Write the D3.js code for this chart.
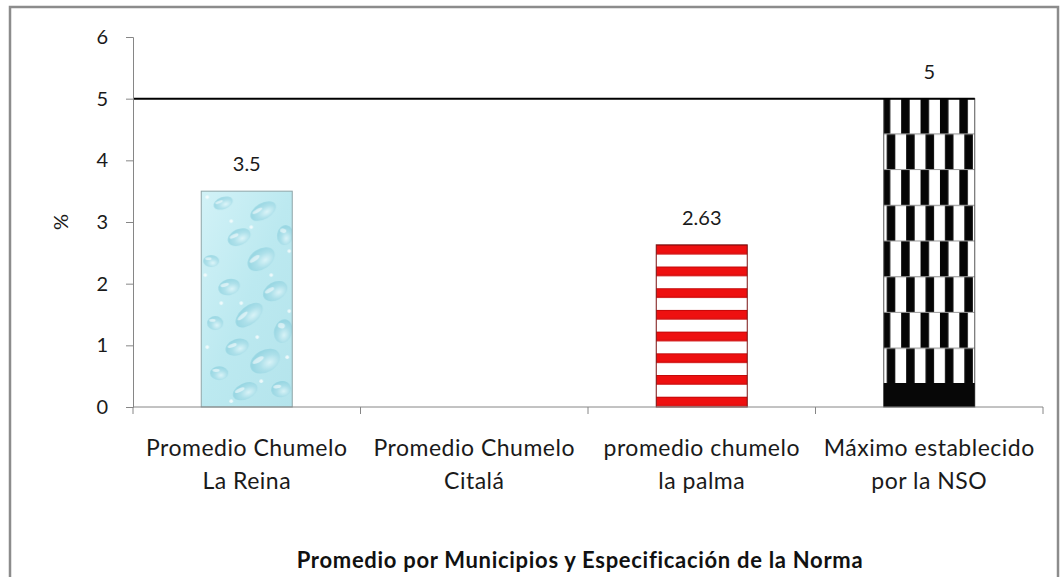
<!DOCTYPE html>
<html>
<head>
<meta charset="utf-8">
<script src="https://cdn.jsdelivr.net/npm/d3@7"></script>
<style>
  html, body { margin: 0; padding: 0; background: #ffffff; }
  svg { display: block; }
</style>
</head>
<body>
<svg id="chart" width="1060" height="577"></svg>
<script>
// Categorías (dos líneas por etiqueta) y valores promedio en %
const categorias = [
  ["Promedio Chumelo", "La Reina"],
  ["Promedio Chumelo", "Citalá"],
  ["promedio chumelo", "la palma"],
  ["Máximo establecido", "por la NSO"]
];
const valores = [3.5, null, 2.63, 5];
const etiquetasValor = ["3.5", "", "2.63", "5"];
const maximoNorma = 5;
const ticksY = [0, 1, 2, 3, 4, 5, 6];
const tituloX = "Promedio por Municipios y Especificación de la Norma";
const tituloY = "%";

const svg = d3.select("#chart");
const plot = { left: 133, right: 1043, top: 37, bottom: 407 };
const fontFam = "Lato, 'Open Sans', sans-serif";
const axisColor = "#868686";

// Marco exterior del gráfico
svg.append("rect")
  .attr("x", 10).attr("y", 7)
  .attr("width", 1048).attr("height", 600)
  .attr("fill", "#ffffff")
  .attr("stroke", "#8c8c8c").attr("stroke-width", 2.5);

const x = d3.scaleBand()
  .domain(d3.range(categorias.length))
  .range([plot.left, plot.right])
  .paddingInner(0.6)
  .paddingOuter(0.3);
const step = x.step();
const xStart = (i) => plot.left + i * step;

const y = d3.scaleLinear().domain([0, 6]).range([plot.bottom, plot.top]);

const defs = svg.append("defs");

// --- Textura de gotas de agua (barra 1)
const gBase = defs.append("linearGradient").attr("id", "aguaBase")
  .attr("x1", "0").attr("y1", "0").attr("x2", "1").attr("y2", "1");
gBase.append("stop").attr("offset", "0").attr("stop-color", "#d2f2f7");
gBase.append("stop").attr("offset", "0.5").attr("stop-color", "#bce9f0");
gBase.append("stop").attr("offset", "1").attr("stop-color", "#b4e4ec");

const gGota = defs.append("radialGradient").attr("id", "gota")
  .attr("cx", "0.6").attr("cy", "0.65").attr("r", "0.6");
gGota.append("stop").attr("offset", "0").attr("stop-color", "#e6f8fb");
gGota.append("stop").attr("offset", "0.55").attr("stop-color", "#a6dce7");
gGota.append("stop").attr("offset", "1").attr("stop-color", "#8acfdd");

const altoAgua = y(0) - y(valores[0]);
const pAgua = defs.append("pattern").attr("id", "agua")
  .attr("patternUnits", "userSpaceOnUse")
  .attr("width", x.bandwidth()).attr("height", altoAgua)
  .attr("x", x(0)).attr("y", y(valores[0]));
pAgua.append("rect").attr("width", x.bandwidth()).attr("height", altoAgua).attr("fill", "url(#aguaBase)");
// gotas: [cx, cy, rx, ry, ángulo] relativas al mosaico
const gotas = [
  [22, 12, 10, 6, -20], [62, 20, 14, 8, -30], [84, 44, 8, 10, 10], [38, 46, 12, 8, -25],
  [10, 70, 8, 6, 0], [60, 68, 15, 10, -35], [28, 96, 11, 8, -15], [74, 100, 13, 9, -30],
  [48, 124, 16, 9, -40], [14, 132, 8, 7, 0], [82, 140, 9, 12, 15], [36, 156, 12, 8, -20],
  [64, 170, 16, 11, -30], [18, 182, 9, 7, 0], [44, 200, 13, 8, -25], [80, 198, 10, 8, -10]
];
gotas.forEach(([cx, cy, rx, ry, a]) => {
  pAgua.append("ellipse").attr("cx", cx).attr("cy", cy)
    .attr("rx", rx).attr("ry", ry)
    .attr("transform", `rotate(${a} ${cx} ${cy})`)
    .attr("fill", "url(#gota)").attr("opacity", 0.7);
  pAgua.append("ellipse").attr("cx", cx - rx * 0.35).attr("cy", cy - ry * 0.4)
    .attr("rx", rx * 0.4).attr("ry", ry * 0.22)
    .attr("transform", `rotate(${a} ${cx} ${cy})`)
    .attr("fill", "#ffffff").attr("opacity", 0.55);
});
[[6, 6], [30, 30], [50, 36], [88, 60], [4, 84], [40, 112], [70, 84], [20, 112],
 [56, 146], [86, 166], [6, 156], [30, 210], [60, 190], [88, 120]]
  .forEach(([cx, cy]) => pAgua.append("circle").attr("cx", cx).attr("cy", cy)
    .attr("r", 1.8).attr("fill", "#ffffff").attr("opacity", 0.75));

// --- Franjas rojas horizontales (barra 3)
const periodoRojo = 21.7;
const pRojo = defs.append("pattern").attr("id", "rayasRojas")
  .attr("patternUnits", "userSpaceOnUse")
  .attr("width", 20).attr("height", periodoRojo)
  .attr("x", x(2)).attr("y", y(valores[2]));
pRojo.append("rect").attr("width", 20).attr("height", periodoRojo).attr("fill", "#ffffff");
pRojo.append("rect").attr("y", 0).attr("width", 20).attr("height", 9.5).attr("fill", "#ee1010");
pRojo.append("rect").attr("y", 0).attr("width", 20).attr("height", 1).attr("fill", "#c40808");
pRojo.append("rect").attr("y", 8.5).attr("width", 20).attr("height", 1).attr("fill", "#c40808");

// --- Bloques verticales blanco/negro desplazados (barra 4)
const filaAlto = 35.7, franja = 19.4;
const pBN = defs.append("pattern").attr("id", "bloquesBN")
  .attr("patternUnits", "userSpaceOnUse")
  .attr("width", franja).attr("height", filaAlto * 2)
  .attr("x", x(3) - 2).attr("y", y(valores[3]));
pBN.append("rect").attr("width", franja).attr("height", filaAlto * 2).attr("fill", "#ffffff");
pBN.append("rect").attr("x", 0).attr("y", 0).attr("width", 8.5).attr("height", filaAlto).attr("fill", "#050505");
pBN.append("rect").attr("x", 5).attr("y", filaAlto).attr("width", 8.5).attr("height", filaAlto).attr("fill", "#050505");
pBN.append("rect").attr("x", 0).attr("y", filaAlto - 1).attr("width", franja).attr("height", 1.2).attr("fill", "#9a9a9a");
pBN.append("rect").attr("x", 0).attr("y", filaAlto * 2 - 1).attr("width", franja).attr("height", 1.2).attr("fill", "#9a9a9a");

const rellenos = ["url(#agua)", "none", "url(#rayasRojas)", "url(#bloquesBN)"];
const bordes = ["#8fa5a8", "none", "#7a1010", "#555555"];

// Barras
const barras = svg.append("g");
valores.forEach((v, i) => {
  if (v == null) return;
  barras.append("rect")
    .attr("x", x(i)).attr("y", y(v))
    .attr("width", x.bandwidth())
    .attr("height", y(0) - y(v))
    .attr("fill", rellenos[i])
    .attr("stroke", bordes[i]).attr("stroke-width", 1);
});
// Base oscura de la textura de la barra 4
barras.append("rect")
  .attr("x", x(3)).attr("y", y(0) - 24)
  .attr("width", x.bandwidth()).attr("height", 24)
  .attr("fill", "#070707");

// Línea del máximo establecido por la norma
svg.append("line")
  .attr("x1", plot.left).attr("x2", x(3) + x.bandwidth())
  .attr("y1", y(maximoNorma)).attr("y2", y(maximoNorma))
  .attr("stroke", "#000000").attr("stroke-width", 2);

// Eje Y
const ejeY = svg.append("g")
  .attr("transform", `translate(${plot.left},0)`)
  .call(d3.axisLeft(y).tickValues(ticksY).tickSize(7).tickPadding(18).tickFormat(d3.format("d")));
ejeY.select(".domain").attr("stroke", axisColor);
ejeY.selectAll(".tick line").attr("stroke", axisColor);
ejeY.selectAll(".tick text")
  .attr("font-family", fontFam).attr("font-size", 20).attr("fill", "#1a1a1a");

// Eje X con marcas en los límites de cada categoría
const ejeX = svg.append("g");
ejeX.append("line")
  .attr("x1", plot.left).attr("x2", plot.right)
  .attr("y1", y(0)).attr("y2", y(0))
  .attr("stroke", axisColor);
ejeX.selectAll("line.tick")
  .data(d3.range(categorias.length + 1))
  .join("line").attr("class", "tick")
  .attr("x1", d => xStart(d)).attr("x2", d => xStart(d))
  .attr("y1", y(0)).attr("y2", y(0) + 7)
  .attr("stroke", axisColor);

// Etiquetas de categoría
const etiquetasCat = svg.append("g")
  .attr("font-family", fontFam).attr("font-size", 23)
  .attr("letter-spacing", 0.5)
  .attr("fill", "#1a1a1a").attr("text-anchor", "middle");
categorias.forEach((lineas, i) => {
  const cx = x(i) + x.bandwidth() / 2;
  const t = etiquetasCat.append("text").attr("x", cx).attr("y", 456);
  lineas.forEach((l, j) => {
    t.append("tspan").attr("x", cx).attr("dy", j === 0 ? 0 : 33).text(l);
  });
});

// Etiquetas de valor sobre las barras
svg.append("g")
  .attr("font-family", fontFam).attr("font-size", 20)
  .attr("fill", "#1a1a1a").attr("text-anchor", "middle")
  .selectAll("text")
  .data(valores.map((v, i) => ({ v, i })).filter(d => d.v != null))
  .join("text")
  .attr("x", d => x(d.i) + x.bandwidth() / 2)
  .attr("y", d => y(d.v) - 20)
  .text(d => etiquetasValor[d.i]);

// Títulos de ejes
svg.append("text")
  .attr("x", (plot.left + plot.right) / 2 - 8).attr("y", 568)
  .attr("text-anchor", "middle")
  .attr("font-family", fontFam).attr("font-size", 22).attr("font-weight", "bold")
  .attr("letter-spacing", 0.7)
  .attr("fill", "#111111")
  .text(tituloX);

svg.append("text")
  .attr("transform", `translate(68,222) rotate(-90)`)
  .attr("text-anchor", "middle")
  .attr("font-family", fontFam).attr("font-size", 20)
  .attr("fill", "#1a1a1a")
  .text(tituloY);
</script>
</body>
</html>
